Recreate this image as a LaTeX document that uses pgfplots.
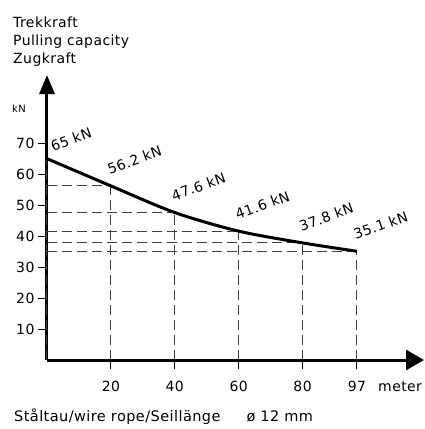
\documentclass[border=0pt]{standalone}
\usepackage{fontspec}
\setmainfont{DejaVu Sans}[LetterSpace=3]
\usepackage{pgfplots}
\usepackage{pgfplotstable}
\pgfplotsset{compat=1.18}
\usetikzlibrary{arrows.meta}

% pulling capacity (kN) against rope length (m)
\pgfplotstableread{
x y
0 65
20 56.2
40 47.6
60 41.6
80 37.8
97 35.1
}\pull

\begin{document}
\begin{tikzpicture}
\begin{axis}[
  scale only axis,
  width=377pt, height=285pt,
  xmin=0, xmax=118, ymin=0, ymax=92,
  axis lines=left,
  axis line style={line width=3pt},
  x axis line style={-{Triangle[length=18pt,width=20pt]}},
  y axis line style={-{Triangle[length=19pt,width=15pt]}},
  xtick={20,40,60,80,97}, ytick={10,20,...,70},
  tick align=outside, major tick length=9pt,
  tick style={line width=0.9pt, black},
  ticklabel style={font=\fontsize{14}{16}\selectfont},
  xticklabel style={yshift=-9pt},
  /pgf/number format/assume math mode=true,
  clip=false,
  kn/.style={point meta=y, draw=none,
    nodes near coords={\pgfmathprintnumber[assume math mode=true]{\pgfplotspointmeta}~kN},
    every node near coord/.style={#1, rotate=20, anchor=south west,
      inner sep=0pt, font=\fontsize{14}{16}\selectfont}},
]
\addplot[black!75, line width=1pt, dash pattern=on 10pt off 5pt, ycomb] table {\pull};
\addplot[black!75, line width=1pt, dash pattern=on 10pt off 5pt, xcomb] table {\pull};
\addplot[black, line width=3pt, smooth] table {\pull};
\addplot[kn={yshift=11pt, xshift=-1pt}, skip coords between index={0}{1}] table {\pull};
\addplot[kn={yshift=7pt, xshift=6pt}, skip coords between index={1}{6}] table {\pull};
\coordinate (O) at (rel axis cs:0,0);
\end{axis}
\begin{scope}[every node/.style={inner sep=0pt, anchor=base west, font=\fontsize{14}{16}\selectfont}]
\node at ([xshift=-34pt,yshift=332pt]O) {Trekkraft};
\node at ([xshift=-34pt,yshift=314pt]O) {Pulling capacity};
\node at ([xshift=-34pt,yshift=296pt]O) {Zugkraft};
\node[font=\fontsize{10}{12}\selectfont] at ([xshift=-35pt,yshift=247pt]O) {kN};
\node at ([xshift=331pt,yshift=-31pt]O) {meter};
\node[font=\fontsize{14.5}{16}\selectfont] at ([xshift=-33pt,yshift=-61pt]O) {Ståltau/wire rope/Seillänge\hspace{26pt}ø 12 mm};
\end{scope}
\pgfresetboundingbox
\path (O) ++(-47pt,-69pt) rectangle ++(425pt,429pt);
\end{tikzpicture}
\end{document}
